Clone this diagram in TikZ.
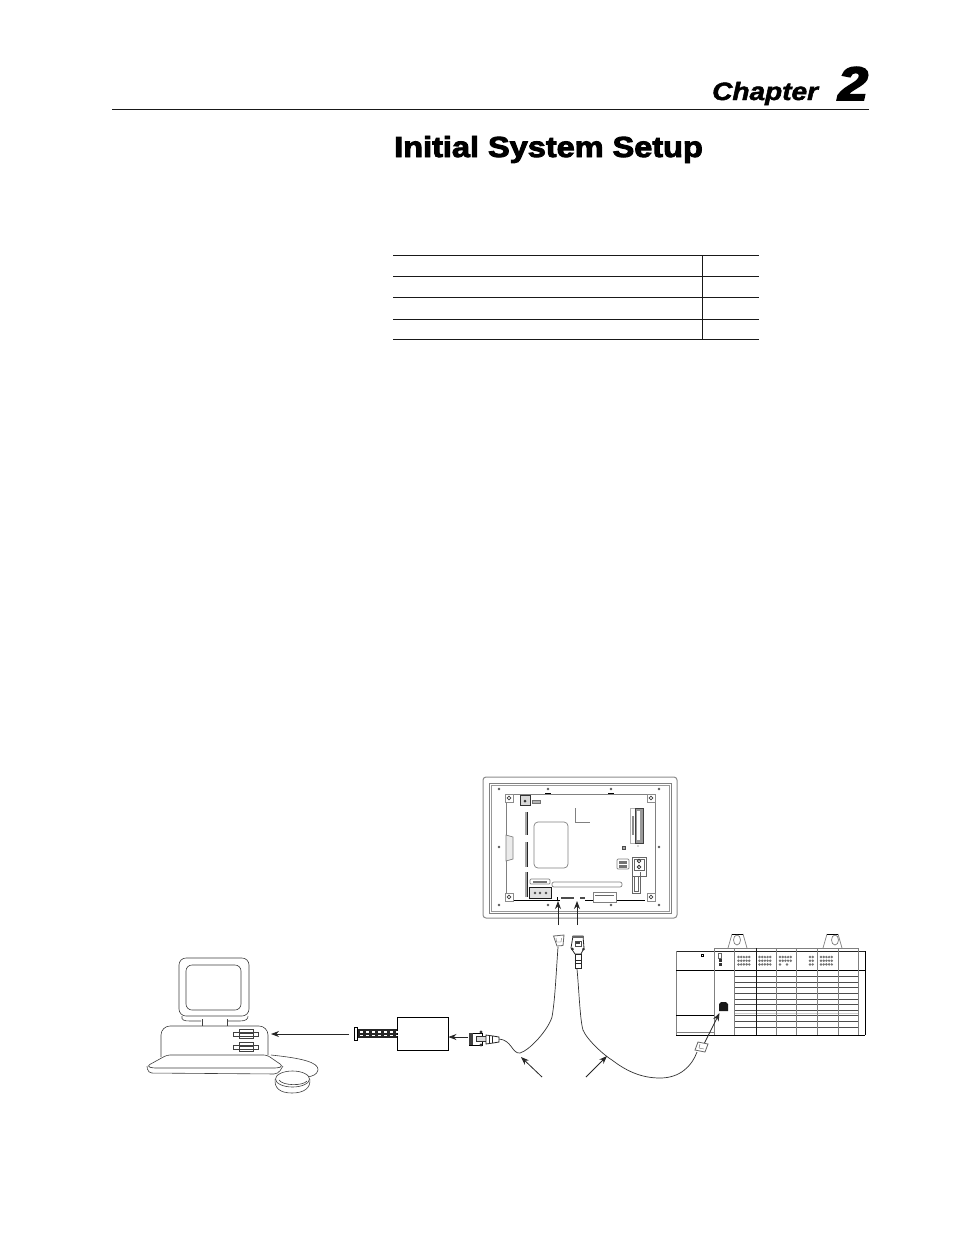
\documentclass[tikz,border=0pt]{standalone}
\usepackage{fontspec}
\setmainfont{Liberation Sans}
\newfontfamily\headfont[FakeBold=3]{Liberation Sans Bold}
\newfontfamily\chapfont[FakeBold=1.8]{Liberation Sans Bold Italic}
\newfontfamily\numfont[FakeBold=4]{Liberation Sans Bold Italic}
\usetikzlibrary{arrows.meta,calc,shapes.geometric}
\tikzset{
  thin line/.style={line width=0.6pt,draw=black!75},
  gray line/.style={line width=0.7pt,draw=black!50},
  pointer/.style={line width=0.8pt,draw=black!85,-{Stealth[length=8pt,width=6pt]}},
  cable/.style={line width=0.7pt,draw=black!80},
  rule/.style={line width=1pt,draw=black!90},
  screw/.style={circle,fill=black!65,inner sep=0pt,minimum size=2.6pt},
}
\begin{document}
\begin{tikzpicture}[x=1pt,y=-1pt]
\useasboundingbox (0,0) rectangle (954,1235);
\fill[white] (0,0) rectangle (954,1235);
% header
\draw [rule] (112,109) -- (869,109);
\node [anchor=base west,inner sep=0pt,xscale=1.12] (chap) at (712,100) {\chapfont\fontsize{25}{25}\selectfont Chapter};
\node [anchor=base west,inner sep=0pt,xscale=1.14] (num) at (838,100) {\numfont\fontsize{47}{47}\selectfont 2};
\node [anchor=base west,inner sep=0pt,xscale=1.12] (title) at (394,157) {\headfont\fontsize{29}{29}\selectfont Initial System Setup};
% contents table
\foreach \y in {255,276.5,297.5,319,339}
  \draw [rule] (393,\y) -- (759,\y);
\draw [rule] (702,255) -- (702,339);
% panel
\draw [line width=1pt,draw=black!45,rounded corners=3pt] (483,777) rectangle (677,918);
\draw [line width=0.9pt,draw=black!50] (489,783) rectangle (671,913);
\draw [line width=0.6pt,draw=black!40] (491,785) rectangle (669,911);
\draw [gray line] (506,794) -- (655,794) -- (655,900);
\draw [gray line] (506,794) -- (506,835);
\draw [gray line] (506,861) -- (506,900);
\draw [line width=1pt] (506,900) -- (557,900);
\draw [line width=1pt] (585,900) -- (645,900);
\draw [gray line,fill=black!8] (506,835) -- (513,837) -- (513,859) -- (506,861) -- cycle;
\foreach \x in {499,548,611,659}{
  \node [screw] at (\x,789) {};
  \node [screw] at (\x,905) {};
}
\node [screw] at (499,847) {};
\node [screw] at (659,847) {};
\draw [line width=0.9pt] (545,793) -- (551,793);
\draw [line width=0.9pt] (608,793) -- (614,793);
\foreach \x/\y in {509/798,651/798,509/897,651/897}{
  \draw [line width=0.5pt,draw=black!45,fill=white] (\x-4,\y-4) rectangle (\x+4,\y+4);
  \draw [black!75,line width=0.7pt] (\x,\y) circle (1.8);
}
\filldraw [fill=black!15,draw=black!80] (520,795) rectangle (530,805);
\fill [black!80] (525,801) circle (1.5);
\filldraw [fill=black!30,draw=black!55,line width=0.4pt] (532,800) rectangle (540,803);
\foreach \ya/\yb in {812/835,842/867,872/897}{
  \fill [black!35] (524.5,\ya) rectangle (527,\yb);
  \draw [black!85,line width=0.8pt] (527,\ya) -- (527,\yb);
}
\draw [gray line,rounded corners=4pt] (534,822) rectangle (568,868);
\draw [gray line] (575,808) -- (575,822) -- (590,822);
\filldraw [fill=white,draw=black!30,line width=0.5pt] (630,808) rectangle (635,843);
\fill [black!45] (632,816) rectangle (634,835);
\filldraw [fill=black!40,draw=black!75] (635,808) rectangle (643,843);
\fill [white] (637,811) rectangle (640,840);
\filldraw [fill=black!35,draw=black!70,line width=0.4pt] (622,846) rectangle (625,849);
\fill [black!70] (638,846) circle (0.7);
\draw [line width=0.9pt,draw=black!60] (632,857) rectangle (646,876);
\draw [line width=0.9pt,draw=black!60] (632,876) -- (632,893) -- (640,893) -- (640,872);
\draw [line width=0.5pt,draw=black!60] (634,859) rectangle (644,870) (634,876) rectangle (638,891);
\draw [black!80,line width=0.8pt] (639,861) circle (1.8) (639,867) circle (1.8);
\draw [gray line,rounded corners=1pt] (617,859) rectangle (629,869);
\fill [black!55] (619,861) rectangle (627,863.5);
\fill [black!55] (619,865) rectangle (627,867.5);
\draw [gray line,rounded corners=2pt] (552,882) rectangle (622,887);
\draw [gray line,rounded corners=1pt] (530,879) rectangle (550,884);
\fill [black!55] (533,880.5) rectangle (547,882.5);
\filldraw [fill=black!12,draw=black!90,line width=0.8pt] (529,887) -- (551,887) -- (551,898) -- (529,898) -- cycle;
\foreach \x in {535,540,546}
  \fill [black!70] (\x,893) circle (1.4);
\draw [gray line,fill=white] (593,892) rectangle (616,902);
\draw [black!60,line width=0.7pt] (595,895) -- (614,895);
\draw [line width=0.8pt] (557,897) -- (557,900) -- (560,900);
\fill [black!70] (561,897) rectangle (574,898.5);
\fill [black!70] (580,897) rectangle (585,898.5);
\coordinate (rjtail) at (558,925);
\coordinate (rjport) at (558,901);
\coordinate (dintail) at (577,925);
\coordinate (dinport) at (577,901);
\draw [pointer] (rjtail) -- (rjport);
\draw [pointer] (dintail) -- (dinport);
% computer
\draw [thin line,rounded corners=7pt] (179,1016) -- (179,958) -- (249,958) -- (249,1016) -- cycle;
\draw [thin line,rounded corners=6pt] (186,965) rectangle (241,1010);
\draw [thin line] (182,1016) .. controls (181,1020) and (184,1021) .. (190,1021) -- (201,1021);
\draw [thin line] (227,1021) -- (240,1021) .. controls (246,1021) and (248,1019) .. (248,1016);
\draw [thin line] (202,1019) -- (202,1026) (227,1019) -- (227,1026);
\draw [thin line,rounded corners=9pt] (161,1057) -- (161,1026) -- (268,1026) -- (268,1055);
\foreach \y in {1032,1045}{
  \draw [thin line,fill=white] (233,\y) rectangle (258,\y+4.5);
  \draw [thin line] (239,\y-3) rectangle (253,\y+6.5);
  \draw [thin line] (239,\y+1.5) -- (253,\y+1.5);
}
\draw [thin line,rounded corners=3pt] (167,1055) -- (267,1055) -- (283,1066) -- (278,1068) -- (152,1068) -- (147,1066) -- cycle;
\draw [thin line,rounded corners=4pt] (147,1066) -- (148,1073) -- (278,1074) -- (283,1066);
\draw [thin line] (271,1055) .. controls (300,1058) and (319,1062) .. (318,1070) .. controls (317,1075) and (312,1076) .. (308,1077);
\node [draw,ellipse,thin line,minimum width=34pt,minimum height=16pt,inner sep=0pt,fill=white] (mouse) at (292.5,1079) {};
\draw [thin line] (mouse.west) .. controls (274,1088) and (280,1093) .. (292,1093) .. controls (304,1093) and (311,1088) .. (mouse.east);
\draw [thin line] (279,1080) .. controls (283,1086) and (303,1086) .. (307,1081);
\coordinate (pctail) at (349,1034);
\coordinate (pcport) at (271,1034);
\draw [pointer] (pctail) -- (pcport);
% converter
\node [draw,line width=0.9pt,minimum width=51pt,minimum height=33pt,inner sep=0pt] (conv) at (422.5,1033.5) {};
\filldraw [fill=white,draw=black,line width=0.8pt] (354.5,1027) rectangle (357.5,1040);
\fill [black!85] (357.5,1029) rectangle (397,1038);
\foreach \x in {360,366,...,396}{
  \fill [white] (\x,1031) rectangle (\x+2.5,1032.5);
  \fill [white] (\x,1034.5) rectangle (\x+2.5,1036);
}
\coordinate (plugleft) at (468,1037);
\draw [pointer] (plugleft) -- (conv.east |- plugleft);
\filldraw [fill=white,draw=black,line width=0.9pt] (469,1033) rectangle (482,1045);
\fill [black!75] (469,1033) rectangle (473,1045);
\fill [black!80] (481,1032) circle (1.6) (481,1045) circle (1.6);
\filldraw [fill=black!15,draw=black!80] (476,1036) rectangle (486,1041);
\filldraw [fill=white,draw=black!85,line width=0.8pt] (486,1035) -- (493,1036) -- (499,1037) -- (499,1042) -- (493,1043) -- (486,1044) -- cycle;
\draw [black!85,line width=1pt] (489,1035.5) -- (489,1043.5) (492,1036) -- (492,1043);
% plugs
\filldraw [fill=white,draw=black!60,line width=0.8pt] (553.5,936) -- (564,935) -- (563,945.5) -- (557,946) -- cycle;
\draw [black!60] (556,938) -- (556.5,942) -- (561,942) -- (561.5,938);
\filldraw [fill=white,draw=black!85,line width=0.8pt] (573,936) -- (583,936) -- (584,948) -- (581,954) -- (575,954) -- (571,948) -- cycle;
\fill [black!80] (572.5,949) circle (1.5) (583.5,949) circle (1.5);
\filldraw [fill=white,draw=black!70,line width=0.5pt] (575,941) rectangle (581,946);
\fill [black!75] (576,942) rectangle (580,944);
\fill [black!60] (572,936) rectangle (584,938);
\filldraw [fill=white,draw=black!85] (575,954) -- (581,954) -- (581,968) -- (575,968) -- cycle;
\draw [black!85,line width=1pt] (574.5,960) -- (581.5,960) (574.5,963) -- (581.5,963);
% cables
\coordinate (splita) at (558,947);
\coordinate (splitb) at (499,1039);
\coordinate (cableb) at (577,969);
\coordinate (cablec) at (697,1052);
\draw [cable] (splita) .. controls (556,975) and (555,1000) .. (552,1017) .. controls (548,1030) and (530,1050) .. (520,1053) .. controls (512,1054) and (512,1040) .. (splitb);
\draw [cable] (cableb) .. controls (579,990) and (580,1020) .. (583,1030) .. controls (587,1040) and (605,1056) .. (612,1060) .. controls (625,1070) and (640,1078) .. (660,1078) .. controls (680,1078) and (692,1066) .. (cablec);
\coordinate (tagatail) at (542,1077);
\coordinate (tagahead) at (521,1057);
\coordinate (tagbtail) at (586,1077);
\coordinate (tagbhead) at (607,1056);
\draw [pointer] (tagatail) -- (tagahead);
\draw [pointer] (tagbtail) -- (tagbhead);
% rack
\draw [gray line] (728,948) -- (732,934) (743,934) -- (747,948);
\draw [line width=1pt] (732,934) -- (743,934);
\draw [gray line] (737,940) ellipse (3.5 and 5);
\draw [gray line] (823,948) -- (827,934) (838,934) -- (842,948);
\draw [line width=1pt] (827,934) -- (838,934);
\draw [gray line] (835,940) ellipse (3.5 and 5);
\draw [gray line] (714,948) -- (859,948);
\draw [line width=0.8pt,draw=black!85] (676,951) -- (865,951);
\draw [gray line] (676,951) -- (676,1035);
\draw [line width=1pt] (676,970) -- (865,970);
\draw [line width=1pt] (676,1015) -- (714,1015);
\draw [line width=1pt] (676,1035) -- (865,1035);
\draw [line width=1pt] (865,951) -- (865,1035);
\draw [gray line] (676,1032) -- (714,1032);
\foreach \y in {976,982,987,993,999,1004,1015,1021,1027}
  \draw [line width=0.6pt,draw=black!70] (734,\y) -- (858,\y);
\draw [line width=0.9pt,draw=black!70] (734,1010) -- (858,1010);
\draw [line width=1pt,draw=black!20] (734,1013) -- (858,1013);
\foreach \x in {714,734,776,796,817,838,858}
  \draw [gray line] (\x,948) -- (\x,1035);
\draw [line width=0.9pt,draw=black!90] (756,948) -- (756,1035);
\filldraw [fill=white,draw=black,line width=0.8pt] (701,954) rectangle (703.5,956.5);
\draw [black!60,line width=0.5pt] (718.5,953.5) rectangle (721.5,958);
\fill [black!80] (718.5,959) rectangle (721.5,961.5);
\fill [black!80] (718.5,962.5) rectangle (721.5,965.5);
\foreach \xa in {738.5,759.5,821}
  \foreach \i in {0,1,2,3,4}
    \foreach \j in {0,1,2}
      \fill [black!55] (\xa+2.7*\i,957+3.7*\j) circle (1.35);
\foreach \i in {0,1,2,3,4}
  \foreach \j in {0,1}
    \fill [black!55] (780+2.7*\i,957+3.7*\j) circle (1.35);
\foreach \xa in {780,787}
  \fill [black!55] (\xa,964.5) circle (1.35);
\foreach \i in {0,1}
  \foreach \j in {0,1,2}
    \fill [black!55] (810+2.7*\i,957+3.7*\j) circle (1.35);
\fill [black!90] (719,1004) -- (721,1002) -- (726,1002) -- (728,1004) -- (728,1011) -- (719,1011) -- cycle;
\coordinate (plcport) at (719.5,1013);
\coordinate (plctail) at (704.5,1043);
\draw [pointer] (plctail) -- (plcport);
\filldraw [fill=white,draw=black!60,line width=0.8pt] (698,1042) -- (708,1044) -- (705,1052) -- (695,1050) -- cycle;
\draw [black!60] (700,1044) -- (699,1048) -- (704,1049);
\end{tikzpicture}
\end{document}
